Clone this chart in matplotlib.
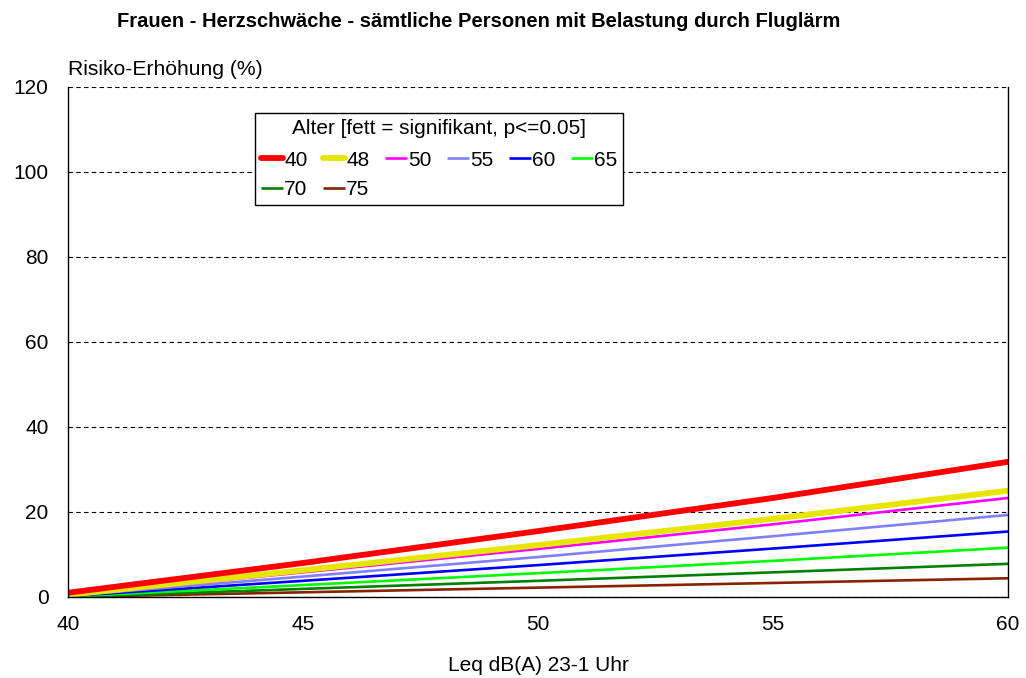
import matplotlib.pyplot as plt

plt.rcParams['font.family'] = ['Liberation Sans', 'DejaVu Sans']

# Lärmpegel (x) und Risiko-Erhöhung in % je Altersgruppe
leq = [40, 45, 50, 55, 60]
ages = ["40", "48", "50", "55", "60", "65", "70", "75"]
risk = {
    "40": [1.0, 8.0, 15.5, 23.3, 31.8],
    "48": [0.5, 6.3, 12.2, 18.4, 25.0],
    "50": [0.4, 5.8, 11.3, 17.1, 23.3],
    "55": [0.3, 4.8, 9.4, 14.3, 19.3],
    "60": [0.2, 3.8, 7.5, 11.4, 15.4],
    "65": [0.1, 2.8, 5.6, 8.5, 11.6],
    "70": [0.0, 1.9, 3.8, 5.8, 7.8],
    "75": [0.0, 1.1, 2.2, 3.3, 4.4],
}
significant = ["40", "48"]
colors = {
    "40": "#ff0000", "48": "#e6e600", "50": "#ff00ff", "55": "#8080ff",
    "60": "#0000ff", "65": "#00ff00", "70": "#008000", "75": "#882200",
}

fig = plt.figure(figsize=(10.26, 6.78), dpi=100)
ax = fig.add_axes([0.0663, 0.1195, 0.9162, 0.7522])

lines = {}
for a in reversed(ages):
    lw = 4.2 if a in significant else 1.9
    lines[a], = ax.plot(leq, risk[a], color=colors[a], lw=lw, label=a,
                        solid_capstyle='round' if a in significant else 'butt')

ax.set_xlim(40, 60)
ax.set_ylim(0, 120)
ax.set_xticks(range(40, 61, 5))
ax.set_yticks(range(0, 121, 20))
ax.tick_params(labelsize=15, length=0)
ax.tick_params(axis='x', pad=13)
ax.tick_params(axis='y', pad=14)
ax.yaxis.grid(True, linestyle=(0, (4, 3)), color='black', lw=0.8)
ax.set_axisbelow(True)
ax.spines['top'].set_visible(False)
for s in ['left', 'bottom', 'right']:
    ax.spines[s].set_linewidth(1.0)

ax.set_xlabel("Leq dB(A) 23-1 Uhr", fontsize=15, labelpad=16)
ax.text(0, 1.016, "Risiko-Erhöhung (%)", transform=ax.transAxes,
        fontsize=15.2, ha='left', va='bottom')
fig.suptitle("Frauen - Herzschwäche - sämtliche Personen mit Belastung durch Fluglärm",
             fontsize=14.5, fontweight='bold', x=0.467, y=0.982)

# Reihenfolge so, dass die Legende zeilenweise gefüllt erscheint
order = ["40", "70", "48", "75", "50", "55", "60", "65"]
leg = ax.legend([lines[a] for a in order], order, ncol=6,
                title="Alter [fett = signifikant, p<=0.05]",
                loc='upper left', bbox_to_anchor=(0.199, 0.949),
                fontsize=15, title_fontsize=15, handlelength=1.05,
                handletextpad=0.05, columnspacing=0.75, labelspacing=0.5,
                borderpad=0.3, borderaxespad=0, fancybox=False, framealpha=1,
                edgecolor='black')
leg.get_frame().set_linewidth(1.0)
leg._legend_box.sep = 9

fig.savefig("out.png", dpi=100)
